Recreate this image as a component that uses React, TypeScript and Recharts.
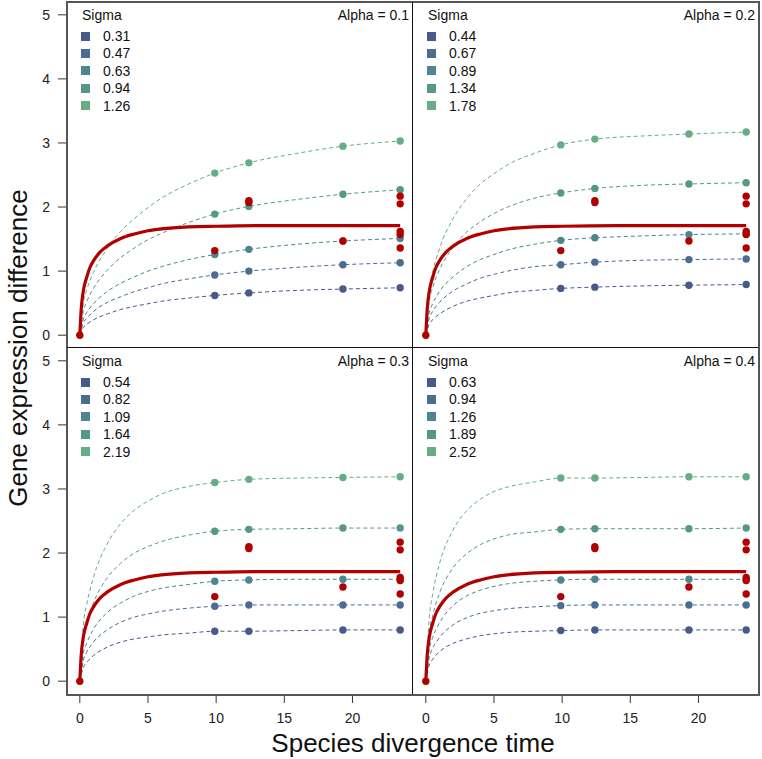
import { ComposedChart, Line, Scatter, XAxis, YAxis } from "recharts";

// time points the curves were read at
const times = [0, 0.25, 0.5, 1, 2, 3, 4, 5, 6, 8, 9.9, 12.4, 16, 19.3, 23.5];
const sampleTimes = [9.9, 12.4, 19.3, 23.5];

const sigmaColors = ["#485a8a", "#4a6d91", "#4d8591", "#55988a", "#66ad86"];
const red = "#b00000";

const redCurveTimes = [0, 0.1, 0.25, 0.5, 0.75, 1, 1.5, 2, 3, 4, 5, 6, 8, 10, 14, 23.5];
const redCurveValues = [0, 0.4, 0.68, 0.9, 1.06, 1.16, 1.3, 1.39, 1.51, 1.58, 1.63, 1.66, 1.69, 1.7, 1.71, 1.71];

const redPointTimes = [0, 9.9, 12.4, 12.4, 19.3, 23.5, 23.5, 23.5, 23.5, 23.5];
const redPointValues = [0, 1.32, 2.1, 2.07, 1.47, 2.17, 2.05, 1.62, 1.57, 1.36];

const alphaLabels = ["0.1", "0.2", "0.3", "0.4"];

const alpha1Sigmas = ["0.31", "0.47", "0.63", "0.94", "1.26"];
const alpha1Curves = [
  [0, 0.12, 0.17, 0.24, 0.33, 0.4, 0.45, 0.49, 0.53, 0.58, 0.62, 0.66, 0.7, 0.72, 0.74],
  [0, 0.19, 0.26, 0.37, 0.51, 0.6, 0.68, 0.74, 0.8, 0.88, 0.94, 1.0, 1.06, 1.1, 1.13],
  [0, 0.25, 0.35, 0.49, 0.68, 0.81, 0.91, 1.0, 1.07, 1.18, 1.26, 1.34, 1.42, 1.47, 1.51],
  [0, 0.37, 0.52, 0.73, 1.01, 1.21, 1.36, 1.49, 1.59, 1.76, 1.89, 2.01, 2.12, 2.2, 2.27],
  [0, 0.5, 0.7, 0.98, 1.35, 1.62, 1.82, 1.99, 2.14, 2.36, 2.53, 2.69, 2.84, 2.95, 3.03],
];

const alpha2Sigmas = ["0.44", "0.67", "0.89", "1.34", "1.78"];
const alpha2Curves = [
  [0, 0.17, 0.24, 0.33, 0.45, 0.53, 0.58, 0.62, 0.66, 0.7, 0.73, 0.75, 0.77, 0.78, 0.79],
  [0, 0.26, 0.37, 0.51, 0.69, 0.8, 0.89, 0.95, 1.0, 1.07, 1.1, 1.14, 1.17, 1.18, 1.19],
  [0, 0.35, 0.49, 0.68, 0.91, 1.07, 1.18, 1.26, 1.33, 1.42, 1.48, 1.52, 1.55, 1.57, 1.58],
  [0, 0.53, 0.74, 1.02, 1.37, 1.61, 1.77, 1.9, 2.0, 2.14, 2.22, 2.29, 2.34, 2.36, 2.38],
  [0, 0.7, 0.98, 1.35, 1.82, 2.13, 2.36, 2.52, 2.66, 2.84, 2.97, 3.06, 3.11, 3.14, 3.17],
];

const alpha3Sigmas = ["0.54", "0.82", "1.09", "1.64", "2.19"];
const alpha3Curves = [
  [0, 0.21, 0.29, 0.4, 0.53, 0.61, 0.66, 0.69, 0.72, 0.75, 0.78, 0.78, 0.79, 0.8, 0.8],
  [0, 0.32, 0.45, 0.61, 0.8, 0.92, 1.0, 1.05, 1.09, 1.14, 1.17, 1.19, 1.19, 1.19, 1.19],
  [0, 0.43, 0.59, 0.81, 1.07, 1.22, 1.33, 1.4, 1.45, 1.51, 1.56, 1.58, 1.59, 1.59, 1.59],
  [0, 0.64, 0.89, 1.22, 1.61, 1.84, 2.0, 2.1, 2.18, 2.28, 2.34, 2.37, 2.38, 2.39, 2.39],
  [0, 0.86, 1.19, 1.62, 2.14, 2.46, 2.67, 2.81, 2.92, 3.04, 3.1, 3.15, 3.17, 3.18, 3.19],
];

const alpha4Sigmas = ["0.63", "0.94", "1.26", "1.89", "2.52"];
const alpha4Curves = [
  [0, 0.25, 0.34, 0.46, 0.59, 0.66, 0.71, 0.74, 0.76, 0.78, 0.79, 0.8, 0.8, 0.8, 0.8],
  [0, 0.37, 0.51, 0.68, 0.88, 0.99, 1.06, 1.1, 1.13, 1.16, 1.18, 1.19, 1.19, 1.19, 1.19],
  [0, 0.49, 0.68, 0.91, 1.18, 1.33, 1.42, 1.48, 1.52, 1.56, 1.58, 1.59, 1.59, 1.59, 1.59],
  [0, 0.74, 1.02, 1.37, 1.77, 1.99, 2.13, 2.22, 2.28, 2.33, 2.37, 2.38, 2.38, 2.38, 2.39],
  [0, 0.98, 1.35, 1.83, 2.36, 2.66, 2.84, 2.96, 3.03, 3.11, 3.17, 3.17, 3.18, 3.19, 3.19],
];

const xTicks = [0, 5, 10, 15, 20];
const yTicks = [0, 1, 2, 3, 4, 5];

const FONT = "'Liberation Sans', Arial, Helvetica, sans-serif";
const PLOT = 346;
const Y_AXIS_W = 67;
const X_AXIS_H = 32;

const dot = (color: string) => (props: any) =>
  <circle cx={props.cx} cy={props.cy} r={3.7} fill={color} />;

type PanelProps = {
  alpha: string;
  sigmas: string[];
  curves: number[][];
  showX: boolean;
  showY: boolean;
  left: number;
  top: number;
};

const Panel = ({ alpha, sigmas, curves, showX, showY, left, top }: PanelProps) => {
  const width = PLOT + (showY ? Y_AXIS_W : 0);
  const height = PLOT + (showX ? X_AXIS_H : 0);
  const plotLeft = left + (showY ? Y_AXIS_W : 0);

  const curveData = curves.map((vals) => times.map((t, i) => ({ t, v: vals[i] })));
  const pointData = curveData.map((d) => d.filter((p) => sampleTimes.includes(p.t)));
  const redLine = redCurveTimes.map((t, i) => ({ t, v: redCurveValues[i] }));
  const redPts = redPointTimes.map((t, i) => ({ t, v: redPointValues[i] }));

  return (
    <>
      <div style={{ position: "absolute", left, top }}>
        <ComposedChart width={width} height={height} margin={{ top: 0, right: 0, bottom: 0, left: 0 }}>
          <XAxis
            type="number"
            dataKey="t"
            domain={[-0.94, 24.44]}
            ticks={xTicks}
            hide={!showX}
            height={X_AXIS_H}
            axisLine={false}
            tickSize={9}
            tickMargin={10}
            tickLine={{ stroke: "#333" }}
            tick={{ fontSize: 14, fill: "#222", fontFamily: FONT }}
            allowDataOverflow
          />
          <YAxis
            type="number"
            dataKey="v"
            domain={[-0.2, 5.2]}
            ticks={yTicks}
            hide={!showY}
            width={Y_AXIS_W}
            axisLine={false}
            tickSize={9}
            tickMargin={8}
            tickLine={{ stroke: "#333" }}
            tick={{ fontSize: 14, fill: "#222", fontFamily: FONT }}
            allowDataOverflow
          />
          {curveData.map((d, i) => (
            <Line
              key={"c" + i}
              data={d}
              dataKey="v"
              type="monotone"
              stroke={sigmaColors[i]}
              strokeWidth={1}
              strokeDasharray="4 3"
              dot={false}
              isAnimationActive={false}
            />
          ))}
          <Line
            data={redLine}
            dataKey="v"
            type="monotone"
            stroke={red}
            strokeWidth={3.2}
            dot={false}
            isAnimationActive={false}
          />
          {pointData.map((d, i) => (
            <Scatter key={"p" + i} data={d} dataKey="v" shape={dot(sigmaColors[i])} isAnimationActive={false} />
          ))}
          <Scatter data={redPts} dataKey="v" shape={dot(red)} isAnimationActive={false} />
        </ComposedChart>
      </div>
      <div
        style={{
          position: "absolute",
          left: plotLeft + 15,
          top: top + 5,
          fontSize: 14,
          lineHeight: "16px",
          color: "#111",
        }}
      >
        Sigma
      </div>
      {sigmas.map((s, i) => (
        <div key={s + i}>
          <div
            style={{
              position: "absolute",
              left: plotLeft + 14,
              top: top + 34 + i * 17.4 - 4.5,
              width: 9,
              height: 9,
              background: sigmaColors[i],
            }}
          />
          <div
            style={{
              position: "absolute",
              left: plotLeft + 36,
              top: top + 34 + i * 17.4 - 8,
              fontSize: 14,
              lineHeight: "16px",
              color: "#111",
            }}
          >
            {s}
          </div>
        </div>
      ))}
      <div
        style={{
          position: "absolute",
          left: plotLeft,
          width: PLOT - 4,
          top: top + 5,
          textAlign: "right",
          fontSize: 14,
          lineHeight: "16px",
          color: "#111",
        }}
      >
        Alpha = {alpha}
      </div>
    </>
  );
};

export default function App() {
  return (
    <div
      style={{
        position: "absolute",
        left: 0,
        top: 0,
        width: 762,
        height: 759,
        background: "#fff",
        fontFamily: FONT,
        overflow: "hidden",
      }}
    >
      <Panel alpha={alphaLabels[0]} sigmas={alpha1Sigmas} curves={alpha1Curves} showX={false} showY left={0} top={2} />
      <Panel alpha={alphaLabels[1]} sigmas={alpha2Sigmas} curves={alpha2Curves} showX={false} showY={false} left={413} top={2} />
      <Panel alpha={alphaLabels[2]} sigmas={alpha3Sigmas} curves={alpha3Curves} showX showY left={0} top={348} />
      <Panel alpha={alphaLabels[3]} sigmas={alpha4Sigmas} curves={alpha4Curves} showX showY={false} left={413} top={348} />

      {/* panel frames */}
      <div
        style={{
          position: "absolute",
          left: 66,
          top: 1,
          width: 694,
          height: 695,
          border: "2px solid #555",
          boxSizing: "border-box",
          pointerEvents: "none",
        }}
      />
      <div style={{ position: "absolute", left: 412, top: 2, width: 1, height: 692, background: "#111" }} />
      <div style={{ position: "absolute", left: 67, top: 347, width: 691, height: 1, background: "#111" }} />

      <div
        style={{
          position: "absolute",
          left: 113,
          width: 600,
          top: 730,
          textAlign: "center",
          fontSize: 26,
          lineHeight: "26px",
          color: "#111",
        }}
      >
        Species divergence time
      </div>
      <div
        style={{
          position: "absolute",
          left: 18 - 200,
          top: 348 - 13,
          width: 400,
          textAlign: "center",
          fontSize: 26,
          lineHeight: "26px",
          color: "#111",
          transform: "rotate(-90deg)",
        }}
      >
        Gene expression difference
      </div>
    </div>
  );
}
